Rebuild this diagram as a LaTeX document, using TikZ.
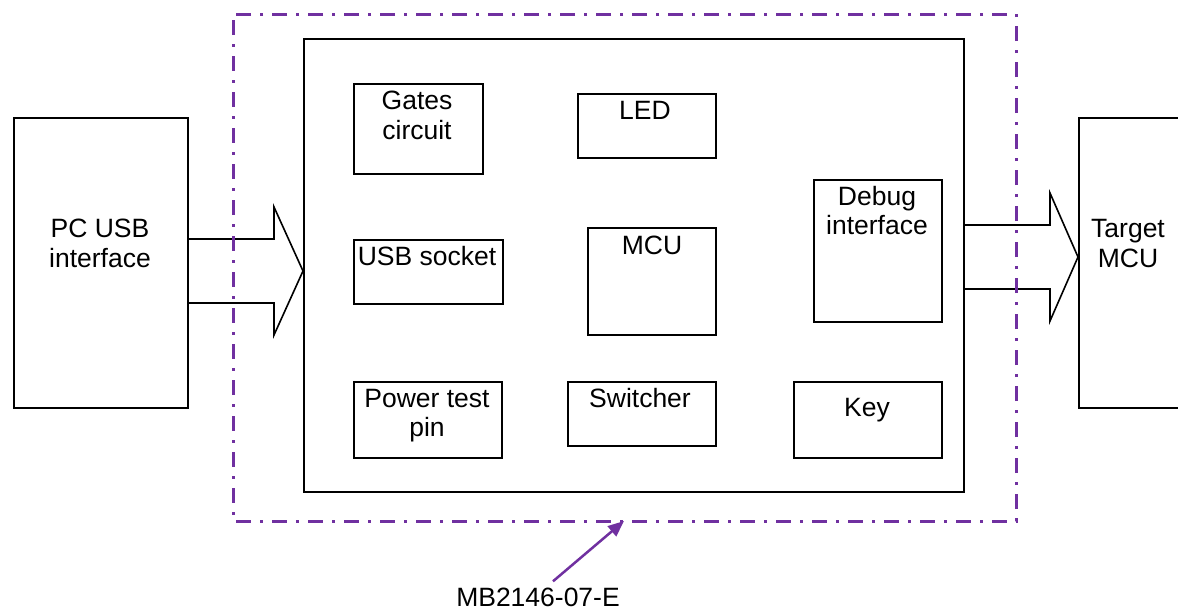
\documentclass[tikz,border=0pt]{standalone}
\usepackage{fontspec}
\setmainfont{Liberation Sans}
\usetikzlibrary{arrows.meta,calc}
\definecolor{mbpurple}{HTML}{7030A0}
\begin{document}
\begin{tikzpicture}[x=1pt,y=-1pt,
  box/.style={draw=black,line width=1.6pt,inner sep=0pt,anchor=north west},
  txt/.style={font=\fontsize{26.5}{29.5}\selectfont,align=center,inner sep=0pt,anchor=base},
  blk/.style={draw=black,line width=1.6pt,line join=miter},
  frame/.style={draw=mbpurple,line width=3pt,dash pattern=on 15pt off 9pt on 3pt off 9pt,dash phase=30pt},
  callout/.style={draw=mbpurple,line width=2.5pt,-{Triangle[length=16pt,width=13pt]}}]
\clip (0,0) rectangle (1178,613);
\fill[white] (0,0) rectangle (1178,613);
% outer blocks
\node[box,minimum width=174,minimum height=290] (pc) at (13,117) {};
\node[txt] (pcT) at (100,267) {PC USB\\interface};
\node[box,minimum width=200,minimum height=290] (tgt) at (1078,117) {};
\node[txt] (tgtT) at (1128,267) {Target\\MCU};
% main board
\node[box,minimum width=660,minimum height=453] (inner) at (303,38) {};
\node[box,minimum width=129,minimum height=90] (gates) at (353,83) {};
\node[txt] (gatesT) at (417,139) {Gates\\circuit};
\node[box,minimum width=138,minimum height=64] (led) at (577,93) {};
\node[txt] (ledT) at (645,119) {LED};
\node[box,minimum width=128,minimum height=142] (dbg) at (813,179) {};
\node[txt] (dbgT) at (877,234.5) {Debug\\interface};
\node[box,minimum width=149,minimum height=64] (usb) at (353,239) {};
\node[txt] (usbT) at (427,265) {USB socket};
\node[box,minimum width=128,minimum height=107] (mcu) at (587,227) {};
\node[txt] (mcuT) at (652,254) {MCU};
\node[box,minimum width=148,minimum height=76] (pwr) at (353,381) {};
\node[txt] (pwrT) at (427,436.5) {Power test\\pin};
\node[box,minimum width=148,minimum height=64] (sw) at (567,381) {};
\node[txt] (swT) at (640,407) {Switcher};
\node[box,minimum width=148,minimum height=76] (key) at (793,381) {};
\node[txt] (keyT) at (867,416) {Key};
% block arrows
\draw[blk] (pc.east |- 0,239) -- (274,239) -- (274,207) -- (inner.west |- 0,271)
  -- (274,335) -- (274,303) -- (pc.east |- 0,303);
\draw[blk] (inner.east |- 0,225) -- (1050,225) -- (1050,193) -- (tgt.west |- 0,257)
  -- (1050,321) -- (1050,289) -- (inner.east |- 0,289);
% dash-dot frame
\draw[frame] (233,14) rectangle (1016,521);
% label
\node[txt] (mb) at (538,606) {MB2146-07-E};
\coordinate (calltip) at (624,521);
\draw[callout] ($(mb.north)+(15,-6)$) -- (calltip);
\end{tikzpicture}
\end{document}
